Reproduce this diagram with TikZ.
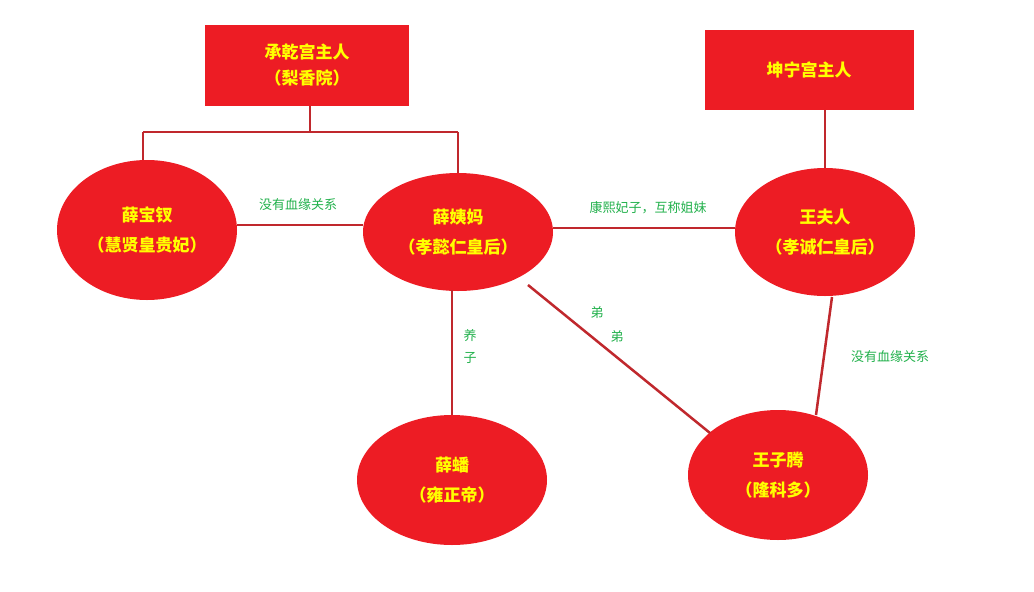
\documentclass[tikz,border=0pt]{standalone}
\usepackage{fontspec}
\setmainfont{Noto Sans CJK SC}
\usetikzlibrary{shapes.geometric}
\definecolor{rd}{HTML}{ED1C24}
\definecolor{ln}{HTML}{C0282D}
\definecolor{gr}{HTML}{22B14C}
\definecolor{yl}{HTML}{FFFF00}
\begin{document}
\begin{tikzpicture}[x=1pt,y=-1pt,
 box/.style={fill=rd,draw=none,text=yl,font=\fontsize{17}{26}\selectfont\bfseries,align=center},
 ell/.style={ellipse,fill=rd,draw=none,text=yl,font=\fontsize{17}{30}\selectfont\bfseries,align=center,inner sep=0},
 lab/.style={text=gr,font=\fontsize{13}{16}\selectfont},
 con/.style={draw=ln,line width=2.5pt}]
\useasboundingbox[fill=white] (0,0) rectangle (1034,592);
\node[box,minimum width=204,minimum height=81] (b1) at (307,65) {承乾宫主人\\（梨香院）};
\node[box,minimum width=209,minimum height=80] (b2) at (809,70) {坤宁宫主人};
\node[ell,minimum width=180,minimum height=140] (bc) at (147,230) {薛宝钗\\（慧贤皇贵妃）};
\node[ell,minimum width=190,minimum height=118] (ym) at (458,232) {薛姨妈\\（孝懿仁皇后）};
\node[ell,minimum width=180,minimum height=128] (wf) at (825,232) {王夫人\\（孝诚仁皇后）};
\node[ell,minimum width=190,minimum height=130] (xp) at (452,480) {薛蟠\\（雍正帝）};
\node[ell,minimum width=180,minimum height=130] (zt) at (778,475) {王子腾\\（隆科多）};
\coordinate (j) at (310,132);
\coordinate (jl) at (143,132);
\coordinate (jr) at (458,132);
\draw[con] (b1.south -| j) -- (j);
\draw[con] (jl) -- (jr);
\draw[con] (jl) -- (jl |- bc.north);
\draw[con] (jr) -- (ym.north);
\draw[con] (bc.east |- 0,225) -- (ym.west |- 0,225);
\draw[con] (ym.east |- 0,228) -- (wf.west |- 0,228);
\draw[con] (b2.south -| wf.north) -- (wf.north);
\draw[con] (452,290) -- (xp.north);
\draw[con] (528,285) -- (710,433);
\draw[con] (832,297) -- (816,415);
\node[lab] (l1) at (298,205) {没有血缘关系};
\node[lab] (l2) at (648,208) {康熙妃子，互称姐妹};
\node[lab,align=center] (l3) at (470,347) {养\\[6pt]子};
\node[lab] (l4) at (597,313) {弟};
\node[lab] (l5) at (617,337) {弟};
\node[lab] (l6) at (890,357) {没有血缘关系};
\end{tikzpicture}
\end{document}
